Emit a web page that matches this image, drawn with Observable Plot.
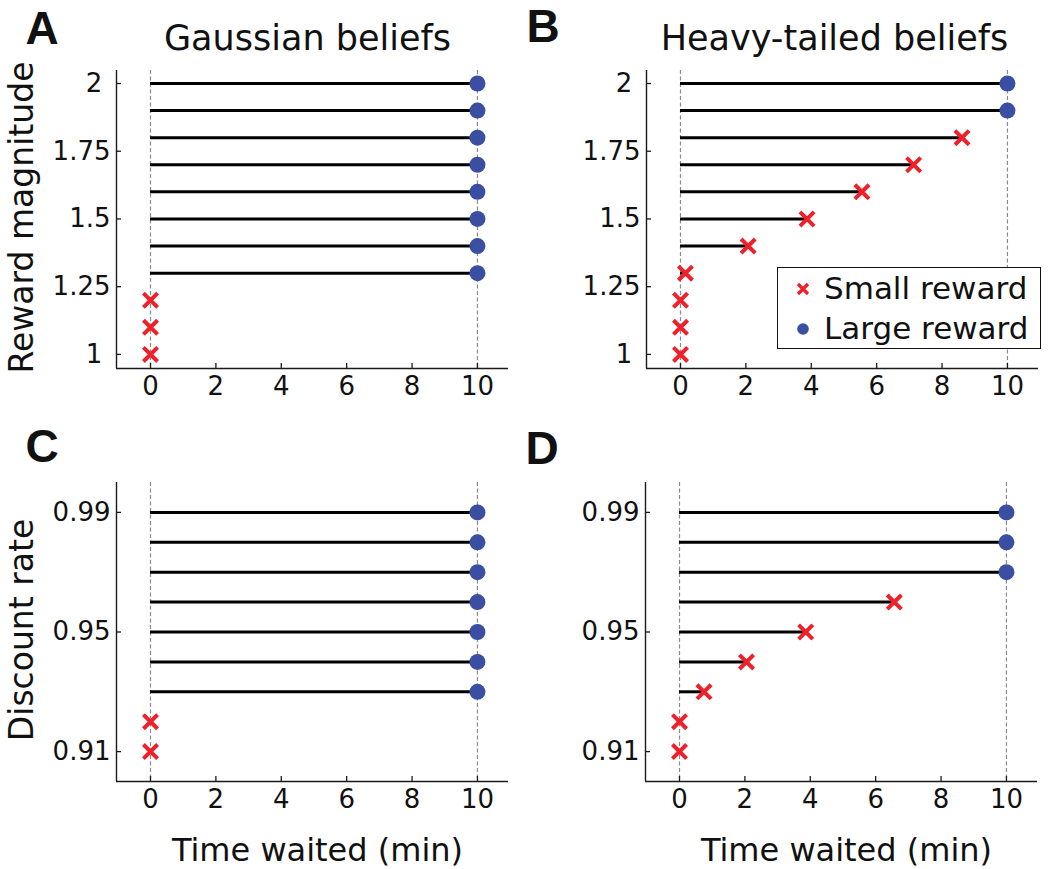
<!DOCTYPE html>
<html>
<head>
<meta charset="utf-8">
<script src="https://cdn.jsdelivr.net/npm/d3@7"></script>
<script src="https://cdn.jsdelivr.net/npm/@observablehq/plot@0.6"></script>
<style>
  html, body { margin: 0; padding: 0; background: #fff; }
  #fig { position: relative; width: 1050px; height: 869px; background: #fff; overflow: hidden; font-family: "DejaVu Sans", sans-serif; }
  .panel { position: absolute; }
  .panel svg { overflow: visible; }
  #legend { position: absolute; left: 777px; top: 267px; width: 262px; height: 80px; border: 1.6px solid #111; background: #fff; z-index: 5; box-sizing: content-box; }
  #legend .row { position: absolute; left: 0; height: 40px; width: 100%; }
  #legend svg { position: absolute; left: 14px; }
  #legend span { position: absolute; left: 46px; font-size: 31px; color: #111; white-space: nowrap; line-height: 1; }
</style>
</head>
<body>
<div id="fig"></div>
<script>
// ---------- data ----------
const panelLetters = ["A", "B", "C", "D"];
const panelTitles = ["Gaussian beliefs", "Heavy-tailed beliefs"];
const yLabelReward = "Reward magnitude";
const yLabelDiscount = "Discount rate";
const xLabelTime = "Time waited (min)";
const legendLabels = ["Small reward", "Large reward"];

const timeTicks = [0, 2, 4, 6, 8, 10];
const guideTimes = [0, 10];

const rewardLevels = [1.0, 1.1, 1.2, 1.3, 1.4, 1.5, 1.6, 1.7, 1.8, 1.9, 2.0];
const rewardTicks = [1, 1.25, 1.5, 1.75, 2];
const waitGaussianReward = [0, 0, 0, 10, 10, 10, 10, 10, 10, 10, 10];
const choiceGaussianReward = ["Small", "Small", "Small", "Large", "Large", "Large", "Large", "Large", "Large", "Large", "Large"];
const waitHeavyReward = [0, 0, 0, 0.15, 2.07, 3.87, 5.55, 7.13, 8.61, 10, 10];
const choiceHeavyReward = ["Small", "Small", "Small", "Small", "Small", "Small", "Small", "Small", "Small", "Large", "Large"];

const discountLevels = [0.91, 0.92, 0.93, 0.94, 0.95, 0.96, 0.97, 0.98, 0.99];
const discountTicks = [0.91, 0.95, 0.99];
const waitGaussianDiscount = [0, 0, 10, 10, 10, 10, 10, 10, 10];
const choiceGaussianDiscount = ["Small", "Small", "Large", "Large", "Large", "Large", "Large", "Large", "Large"];
const waitHeavyDiscount = [0, 0, 0.75, 2.05, 3.86, 6.57, 10, 10, 10];
const choiceHeavyDiscount = ["Small", "Small", "Small", "Small", "Small", "Small", "Large", "Large", "Large"];

// ---------- style ----------
const BLUE = "#3a4ea2";
const RED = "#f0202a";
const AXIS = "#1a1a1a";
const xDomain = [-1.04, 10.95];
const rewardDomain = [0.948, 2.048];
const discountDomain = [0.9, 1.0];

const fmtY = d => Number.isInteger(d) ? `${d}\u00a0` : `${d}`;

function panel(cfg) {
  const rows = cfg.levels.map((y, i) => ({y, t: cfg.waits[i], c: cfg.choices[i]}));
  const marks = [
    Plot.ruleX(guideTimes, {stroke: "#8a8a8a", strokeWidth: 1.2, strokeDasharray: "4,2.5"}),
    Plot.ruleX([xDomain[0]], {stroke: AXIS, strokeWidth: 1.4}),
    Plot.ruleY([cfg.yDomain[0]], {stroke: AXIS, strokeWidth: 1.4}),
    Plot.axisX(timeTicks, {tickSize: -5, tickPadding: 13, fontSize: 26, label: null, stroke: AXIS, strokeWidth: 1.3}),
    Plot.axisY(cfg.yTicks, {tickSize: -5, tickPadding: 11, fontSize: 26, label: null, tickFormat: fmtY, stroke: AXIS, strokeWidth: 1.3}),
    Plot.ruleY(rows.filter(d => d.t > 0), {y: "y", x1: 0, x2: "t", stroke: "#000", strokeWidth: 3}),
    Plot.dot(rows.filter(d => d.c === "Large"), {x: "t", y: "y", r: 8, fill: BLUE}),
    Plot.dot(rows.filter(d => d.c === "Small"), {x: "t", y: "y", r: 6.5, symbol: "times", stroke: RED, strokeWidth: 4}),
    Plot.text([cfg.letter], {text: d => d, frameAnchor: "top-left", textAnchor: "start", lineAnchor: "bottom",
      dx: cfg.letterDx, dy: cfg.letterDy, fontSize: 46, fontWeight: 600, fontFamily: "Liberation Sans, Arial, sans-serif", fill: "#111"})
  ];
  if (cfg.title) marks.push(Plot.text([cfg.title], {text: d => d, frameAnchor: "top", textAnchor: "middle", lineAnchor: "bottom",
      dx: cfg.titleDx, dy: -21, fontSize: 35, fill: "#111"}));
  if (cfg.yLabel) marks.push(Plot.text([cfg.yLabel], {text: d => d, frameAnchor: "left", textAnchor: "middle", lineAnchor: "bottom", rotate: -90,
      dx: -84, dy: -2, fontSize: 33, fill: "#111"}));
  if (cfg.xLabel) marks.push(Plot.text([cfg.xLabel], {text: d => d, frameAnchor: "bottom", textAnchor: "middle", lineAnchor: "bottom",
      dx: 5, dy: 79, fontSize: 32, fill: "#111"}));
  const chart = Plot.plot({
    width: cfg.width, height: cfg.height,
    marginLeft: cfg.ml, marginRight: cfg.mr, marginTop: cfg.mt, marginBottom: cfg.mb,
    x: {domain: xDomain},
    y: {domain: cfg.yDomain},
    style: {fontFamily: "DejaVu Sans, sans-serif", fontSize: "26px", color: "#111", background: "transparent", overflow: "visible"},
    marks
  });
  const div = document.createElement("div");
  div.className = "panel";
  div.style.left = cfg.left + "px";
  div.style.top = cfg.top + "px";
  div.appendChild(chart);
  document.getElementById("fig").appendChild(div);
}

panel({letter: panelLetters[0], title: panelTitles[0], titleDx: -5, yLabel: yLabelReward,
  levels: rewardLevels, waits: waitGaussianReward, choices: choiceGaussianReward, yDomain: rewardDomain, yTicks: rewardTicks,
  left: 0, top: 0, width: 525, height: 420, ml: 116, mr: 17, mt: 70, mb: 52, letterDx: -91, letterDy: -27});
panel({letter: panelLetters[1], title: panelTitles[1], titleDx: -8,
  levels: rewardLevels, waits: waitHeavyReward, choices: choiceHeavyReward, yDomain: rewardDomain, yTicks: rewardTicks,
  left: 525, top: 0, width: 525, height: 420, ml: 121, mr: 12, mt: 70, mb: 52, letterDx: -120, letterDy: -29});
panel({letter: panelLetters[2], yLabel: yLabelDiscount, xLabel: xLabelTime,
  levels: discountLevels, waits: waitGaussianDiscount, choices: choiceGaussianDiscount, yDomain: discountDomain, yTicks: discountTicks,
  left: 0, top: 420, width: 525, height: 449, ml: 116, mr: 17, mt: 62, mb: 88, letterDx: -91, letterDy: -21});
panel({letter: panelLetters[3], xLabel: xLabelTime,
  levels: discountLevels, waits: waitHeavyDiscount, choices: choiceHeavyDiscount, yDomain: discountDomain, yTicks: discountTicks,
  left: 525, top: 420, width: 525, height: 449, ml: 120, mr: 13, mt: 62, mb: 88, letterDx: -120, letterDy: -19});

// ---------- legend (panel B) ----------
const legend = document.createElement("div");
legend.id = "legend";
legendLabels.forEach((lab, i) => {
  const row = document.createElement("div");
  row.className = "row";
  row.style.top = (i * 40) + "px";
  const ns = "http://www.w3.org/2000/svg";
  const s = document.createElementNS(ns, "svg");
  s.setAttribute("width", 22); s.setAttribute("height", 22);
  s.style.top = "10px";
  if (i === 0) {
    const p = document.createElementNS(ns, "path");
    p.setAttribute("d", "M6,6L16,16M16,6L6,16");
    p.setAttribute("stroke", RED); p.setAttribute("stroke-width", 3.2);
    s.appendChild(p);
  } else {
    const c = document.createElementNS(ns, "circle");
    c.setAttribute("cx", 11); c.setAttribute("cy", 11); c.setAttribute("r", 5.8);
    c.setAttribute("fill", BLUE);
    s.appendChild(c);
  }
  row.appendChild(s);
  const sp = document.createElement("span");
  sp.textContent = lab;
  sp.style.top = "5px";
  row.appendChild(sp);
  legend.appendChild(row);
});
document.getElementById("fig").appendChild(legend);
</script>
</body>
</html>
